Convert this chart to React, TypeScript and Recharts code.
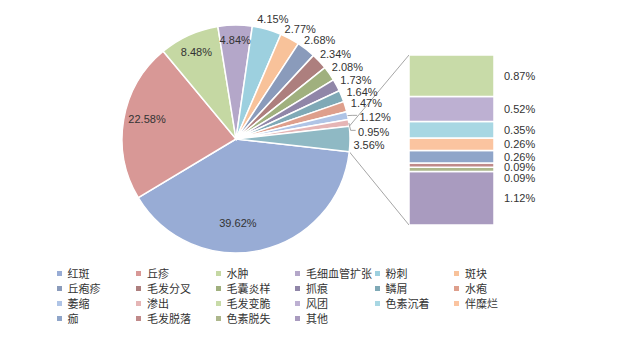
import React from 'react';
import { PieChart, Pie, Cell, Legend, Customized, BarChart, Bar, XAxis, YAxis, LabelList } from 'recharts';

// ---- data ----
const pieNames = ['红斑', '丘疹', '水肿', '毛细血管扩张', '粉刺', '斑块', '丘疱疹', '毛发分叉', '毛囊炎样', '抓痕', '鳞屑', '水疱', '萎缩', '渗出'];
const pieValues = [39.62, 22.58, 8.48, 4.84, 4.15, 2.77, 2.68, 2.34, 2.08, 1.73, 1.64, 1.47, 1.12, 0.95];
const barNames = ['毛发变脆', '风团', '色素沉着', '伴糜烂', '痂', '毛发脱落', '色素脱失', '其他'];
const barValues = [0.87, 0.52, 0.35, 0.26, 0.26, 0.09, 0.09, 1.12];
const otherGroupName = '其他组';
const otherGroupValue = 3.56;

// ---- styles ----
const pieColors = ['#98ACD5', '#D89896', '#C5D8A3', '#B4A7C9', '#9DD0DF', '#F8C29A', '#8A9BBB', '#AD7F7E', '#A0B07E', '#9086A8', '#7FA9B6', '#DE9F8C', '#AFC4E6', '#E5B5B5'];
const otherSliceColor = '#8FB9C4';
const barColors = ['#C8DBA8', '#BDB0D2', '#A8D7E3', '#FBC4A0', '#8FA5C9', '#C08A8A', '#ADB78C', '#A99BBF'];

const W = 618;
const H = 348;
const PCX = 236;
const PCY = 139;
const PR = 114;
const BAR_X = 409;
const BAR_TOP = 55;
const BAR_W = 85;
const BAR_H = 170;
const LABEL_FONT = '"Liberation Sans", Arial, sans-serif';
const CJK_FONT = '"Noto Sans CJK SC", "Noto Sans", sans-serif';
const RAD = Math.PI / 180;

const pieData = [
  ...pieNames.map((n, i) => ({ name: n, value: pieValues[i] })),
  { name: otherGroupName, value: otherGroupValue },
];
const pieTotal = pieData.reduce((s, d) => s + d.value, 0);
const halfOther = (otherGroupValue / pieTotal) * 360 / 2;
const startAngle = -halfOther;

const barTotal = barValues.reduce((s, v) => s + v, 0);
const barRow: Record<string, any> = { cat: 'g' };
barNames.forEach((n, i) => { barRow[n] = barValues[i]; });

// push overlapping bar labels down
const pxPer = BAR_H / barTotal;
const barLabelShift: number[] = (() => {
  let acc = 0;
  let prev = -Infinity;
  return barValues.map((v) => {
    const c = (acc + v / 2) * pxPer;
    acc += v;
    const y = Math.max(c, prev + 10.5);
    prev = y;
    return y - c;
  });
})();

const insideFactor = [0.74, 0.8, 0.84, 0.87];
const insideAngleShift = [-11, -3, 0, 0];
const labelNudge: Record<number, [number, number]> = { 12: [6, 4], 13: [3, 11], 14: [-3, 6] };

const renderPieLabel = (props: any) => {
  const { cx, cy, midAngle, outerRadius, index, value } = props;
  const txt = Number(value).toFixed(2) + '%';
  if (index < 4) {
    const ang = midAngle + insideAngleShift[index];
    const r = outerRadius * insideFactor[index];
    const x = cx + r * Math.cos(-ang * RAD);
    const y = cy + r * Math.sin(-ang * RAD);
    return (
      <text key={'l' + index} x={x} y={y} textAnchor="middle" dominantBaseline="central" fontSize={11} fontFamily={LABEL_FONT} fill="#333">
        {txt}
      </text>
    );
  }
  const cos = Math.cos(-midAngle * RAD);
  const sin = Math.sin(-midAngle * RAD);
  const halfW = 17;
  const halfH = 6;
  const r0 = outerRadius + 5;
  const nudge = labelNudge[index] || [0, 0];
  const x = cx + (r0 + halfW) * cos + nudge[0];
  const y = cy + (r0 + halfH) * sin + nudge[1];
  const hasLeader = index === 12 || index === 13;
  const ex = cx + outerRadius * cos;
  const ey = cy + outerRadius * sin;
  return (
    <g key={'l' + index}>
      {hasLeader && (
        <polyline
          points={`${ex},${ey} ${x - halfW - 6},${y - 2} ${x - halfW - 1},${y - 2}`}
          fill="none"
          stroke="#A6A6A6"
          strokeWidth={1}
        />
      )}
      <text x={x} y={y} textAnchor="middle" dominantBaseline="central" fontSize={11} fontFamily={LABEL_FONT} fill="#333">
        {txt}
      </text>
    </g>
  );
};

const Connectors = () => {
  const ex = PCX + PR * Math.cos(halfOther * RAD);
  const dy = PR * Math.sin(halfOther * RAD);
  return (
    <g>
      <line x1={ex} y1={PCY - dy} x2={BAR_X} y2={BAR_TOP} stroke="#A6A6A6" strokeWidth={1} />
      <line x1={ex} y1={PCY + dy} x2={BAR_X} y2={BAR_TOP + BAR_H} stroke="#A6A6A6" strokeWidth={1} />
    </g>
  );
};

const legendItems = [
  ...pieNames.map((n, i) => ({ name: n, color: pieColors[i] })),
  ...barNames.map((n, i) => ({ name: n, color: barColors[i] })),
];

const renderLegend = () => (
  <div
    style={{
      display: 'grid',
      gridTemplateColumns: 'repeat(6, 79.5px)',
      gridAutoRows: '15px',
      paddingLeft: 56.5,
      fontFamily: CJK_FONT,
      fontSize: 11,
      color: '#333',
    }}
  >
    {legendItems.map((it) => (
      <div key={it.name} style={{ display: 'flex', alignItems: 'center', whiteSpace: 'nowrap', height: 15 }}>
        <span style={{ display: 'inline-block', width: 5, height: 5, background: it.color, marginRight: 6, flex: 'none' }} />
        <span style={{ lineHeight: '15px' }}>{it.name}</span>
      </div>
    ))}
  </div>
);

const makeBarLabel = (i: number) => (props: any) => {
  const { x, y, width, height } = props;
  const ly = Number(y) + Number(height) / 2 + barLabelShift[i];
  return (
    <text x={Number(x) + Number(width) + 10} y={ly} dominantBaseline="central" fontSize={11} fontFamily={LABEL_FONT} fill="#333">
      {barValues[i].toFixed(2) + '%'}
    </text>
  );
};

export default function App() {
  const stackOrder = barNames.map((n, i) => i).reverse();
  return (
    <div style={{ position: 'absolute', left: 0, top: 0, width: W, height: H, background: '#fff' }}>
      <div style={{ position: 'absolute', left: 0, top: 0 }}>
        <PieChart width={W} height={H} margin={{ top: 0, right: 0, bottom: 0, left: 0 }}>
          <Pie
            data={pieData}
            dataKey="value"
            nameKey="name"
            cx={PCX}
            cy={PCY}
            outerRadius={PR}
            startAngle={startAngle}
            endAngle={startAngle - 360}
            stroke="#fff"
            strokeWidth={1.5}
            label={renderPieLabel}
            labelLine={false}
            isAnimationActive={false}
          >
            {pieData.map((d, i) => (
              <Cell key={d.name} fill={i < pieColors.length ? pieColors[i] : otherSliceColor} />
            ))}
          </Pie>
          <Customized component={<Connectors />} />
          <Legend content={renderLegend} wrapperStyle={{ position: 'absolute', left: 0, top: 265.5, width: W, margin: 0 }} />
        </PieChart>
      </div>
      <div style={{ position: 'absolute', left: BAR_X, top: BAR_TOP }}>
        <BarChart
          width={BAR_W + 70}
          height={BAR_H}
          data={[barRow]}
          margin={{ top: 0, right: 70, bottom: 0, left: 0 }}
          barCategoryGap={0}
          barGap={0}
        >
          <XAxis dataKey="cat" hide />
          <YAxis hide domain={[0, barTotal]} />
          {stackOrder.map((i) => (
            <Bar
              key={barNames[i]}
              dataKey={barNames[i]}
              stackId="s"
              fill={barColors[i]}
              stroke="#fff"
              strokeWidth={1.5}
              isAnimationActive={false}
            >
              <LabelList dataKey={barNames[i]} content={makeBarLabel(i)} />
            </Bar>
          ))}
        </BarChart>
      </div>
    </div>
  );
}
